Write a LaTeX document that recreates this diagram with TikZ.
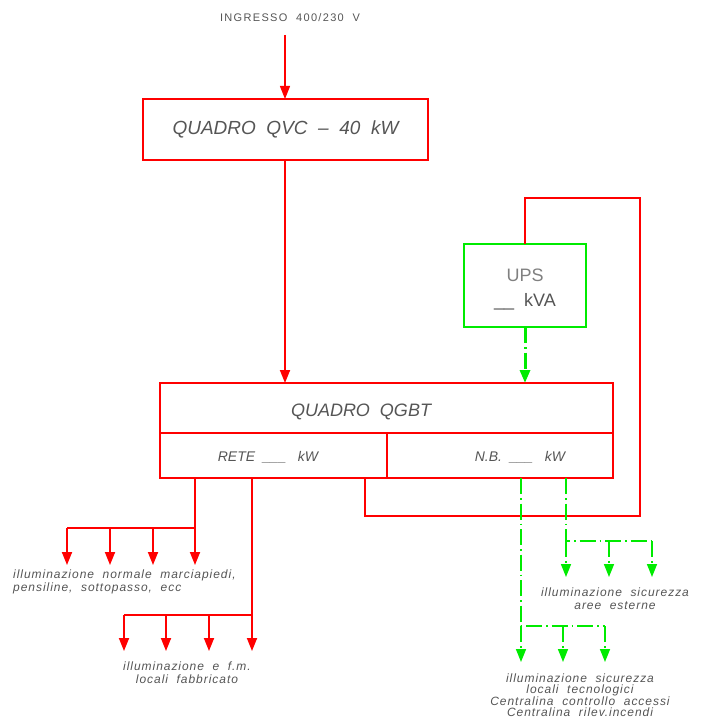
\documentclass[tikz,border=0pt]{standalone}
\usepackage{fontspec}
\setmainfont{Liberation Sans}
\usetikzlibrary{arrows.meta}
\definecolor{cadred}{RGB}{255,0,0}
\definecolor{cadgreen}{RGB}{0,235,0}
\definecolor{cadtext}{RGB}{85,85,85}
\begin{document}
\begin{tikzpicture}[x=1pt,y=-1pt,
    redline/.style={draw=cadred,line width=1.8pt},
    greenline/.style={draw=cadgreen,line width=1.6pt,dash pattern=on 16pt off 4pt on 1.5pt off 4pt},
    tip/.style={-{Triangle[length=13pt,width=10pt]}},
    box/.style={draw=cadred,line width=1.6pt,rectangle,inner sep=0pt,outer sep=0pt,text=cadtext},
    cad/.style={text=cadtext,font=\itshape\fontsize{12}{13}\selectfont\addfontfeature{LetterSpace=8},inner sep=0pt,align=center}]
  \useasboundingbox (0,0) rectangle (702,719);

  % quadri
  \node[box,minimum width=285pt,minimum height=61pt,
    font=\itshape\fontsize{19}{22}\selectfont] (qvc) at (285.5,129.5) {QUADRO\ \ QVC\ \ --\ \ 40\ \ kW};
  \node[box,draw=cadgreen,minimum width=122pt,minimum height=83pt] (ups) at (525,285.5) {};
  \node[text=gray,font=\fontsize{18}{20}\selectfont,inner sep=0pt] (upsname) at (525,275) {UPS};
  \node[text=cadtext,font=\fontsize{18}{20}\selectfont,inner sep=0pt] (upskva) at (525,302) {\_\_\ \ kVA};
  \node[box,minimum width=453pt,minimum height=50pt] (qgbt) at (386.5,408) {};
  \node[box,minimum width=227pt,minimum height=45pt] (rete) at (273.5,455.5) {};
  \node[box,minimum width=226pt,minimum height=45pt] (nb) at (500,455.5) {};
  \node[cad,font=\itshape\fontsize{18}{20}\selectfont] (qgbttxt) at (361,412) {QUADRO\ \ QGBT};
  \node[cad,font=\itshape\fontsize{14}{16}\selectfont] (retetxt) at (268,457) {RETE\ \ \_\_\_\ \ \ kW};
  \node[cad,font=\itshape\fontsize{14}{16}\selectfont] (nbtxt) at (520,457) {N.B.\ \ \_\_\_\ \ \ kW};

  % alimentazione
  \node[text=cadtext,font=\fontsize{11}{12}\selectfont\addfontfeature{LetterSpace=12},inner sep=0pt] (ingresso) at (290,18) {INGRESSO\ \ 400/230\ \ V};
  \coordinate (feed) at (285,35);
  \draw[redline,line width=1.2pt,tip] (feed) -- (feed |- qvc.north);
  \draw[redline,tip] (feed |- qvc.south) -- (feed |- qgbt.north);
  \draw[greenline,tip,line width=3pt] (ups.south) -- (ups.south |- qgbt.north);

  % by-pass UPS
  \coordinate (byp1) at (640,198);
  \coordinate (byp2) at (365,516);
  \draw[redline] (ups.north) |- (byp1) |- (byp2) -- (byp2 |- rete.south);

  % partenze rete
  \coordinate (j1) at (195,528);
  \coordinate (j2) at (252,615);
  \draw[redline] (rete.south -| j1) -- (j1) -- ++(-128,0);
  \draw[redline] (rete.south -| j2) -- (j2) -- ++(-128,0);
  \foreach \x in {67,110,153,195}
    \draw[redline,tip] (\x,528) -- (\x,565);
  \foreach \x in {124,166,209,252}
    \draw[redline,tip] (\x,615) -- (\x,651);

  % partenze N.B.
  \coordinate (j3) at (566,541);
  \coordinate (j4) at (521,626);
  \draw[greenline] (nb.south -| j3) -- (j3) -- ++(86,0);
  \draw[greenline] (nb.south -| j4) -- (j4) -- ++(84,0);
  \foreach \x in {566,609,652}
    \draw[greenline,tip] (\x,541) -- (\x,577);
  \foreach \x in {521,563,605}
    \draw[greenline,tip] (\x,626) -- (\x,662);

  % utenze
  \node[cad,align=left,anchor=north west] (lab1) at (13,570)
    {illuminazione\ \ normale\ \ marciapiedi,\\pensiline,\ \ sottopasso,\ \ ecc};
  \node[cad] (lab2) at (187,673) {illuminazione\ \ e\ \ f.m.\\locali\ \ fabbricato};
  \node[cad] (lab3) at (615,599) {illuminazione\ \ sicurezza\\aree\ \ esterne};
  \node[cad,font=\itshape\fontsize{12}{11}\selectfont\addfontfeature{LetterSpace=8}] (lab4) at (580,695)
    {illuminazione\ \ sicurezza\\locali\ \ tecnologici\\Centralina\ \ controllo\ \ accessi\\Centralina\ \ rilev.incendi};
\end{tikzpicture}
\end{document}
